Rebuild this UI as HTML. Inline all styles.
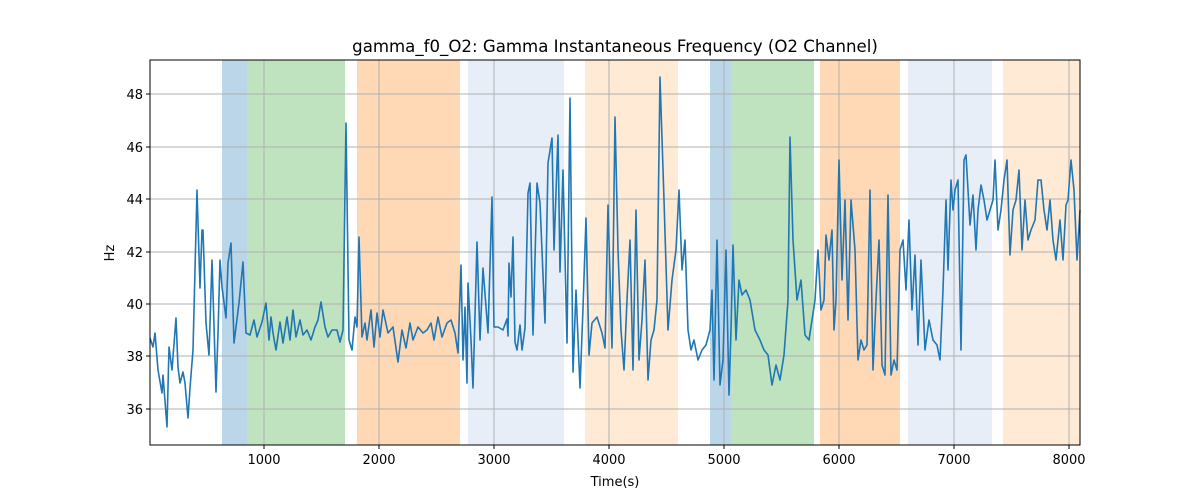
<!DOCTYPE html>
<html><head><meta charset="utf-8"><style>body{margin:0;background:#fff}svg{display:block}text{font-family:"DejaVu Sans","Liberation Sans",sans-serif;font-size:13px;fill:#000}</style></head><body>
<svg width="1200" height="500" xmlns="http://www.w3.org/2000/svg">
<g>
<rect x="222" y="60" width="25" height="385" fill="#1f77b4" fill-opacity="0.3"/>
<rect x="247" y="60" width="98" height="385" fill="#2ca02c" fill-opacity="0.3"/>
<rect x="357" y="60" width="103" height="385" fill="#ff7f0e" fill-opacity="0.3"/>
<rect x="468" y="60" width="96" height="385" fill="#aec7e8" fill-opacity="0.3"/>
<rect x="585" y="60" width="93" height="385" fill="#ffbb78" fill-opacity="0.3"/>
<rect x="710" y="60" width="21" height="385" fill="#1f77b4" fill-opacity="0.3"/>
<rect x="731" y="60" width="83" height="385" fill="#2ca02c" fill-opacity="0.3"/>
<rect x="820" y="60" width="80" height="385" fill="#ff7f0e" fill-opacity="0.3"/>
<rect x="908" y="60" width="84" height="385" fill="#aec7e8" fill-opacity="0.3"/>
<rect x="1003" y="60" width="77" height="385" fill="#ffbb78" fill-opacity="0.3"/>
</g>
<g stroke="#b0b0b0" stroke-width="1">
<line x1="264" y1="60" x2="264" y2="445"/><line x1="379" y1="60" x2="379" y2="445"/><line x1="494" y1="60" x2="494" y2="445"/><line x1="609" y1="60" x2="609" y2="445"/><line x1="724" y1="60" x2="724" y2="445"/><line x1="839" y1="60" x2="839" y2="445"/><line x1="954" y1="60" x2="954" y2="445"/><line x1="1069" y1="60" x2="1069" y2="445"/>
<line x1="150" y1="409" x2="1080" y2="409"/><line x1="150" y1="356" x2="1080" y2="356"/><line x1="150" y1="304" x2="1080" y2="304"/><line x1="150" y1="252" x2="1080" y2="252"/><line x1="150" y1="199" x2="1080" y2="199"/><line x1="150" y1="147" x2="1080" y2="147"/><line x1="150" y1="94" x2="1080" y2="94"/>
</g>
<polyline fill="none" stroke="#1f77b4" stroke-width="1.6" stroke-linejoin="round" points="150,338 153,347 155,333 158,370 162,393 163,375 167,427 169,347 172,370 176,318 178,367 180,383 183,372 185,383 188,418 190,388 193,350 197,190 200,288 202,230 203,230 206,323 209,355 212,260 216,392 218,333 220,260 222,287 226,318 228,263 231,243 234,343 239,303 243,262 246,333 250,335 254,320 257,337 262,322 266,303 269,340 271,317 273,333 276,350 280,322 283,343 287,317 290,340 293,310 296,337 300,320 303,335 307,330 311,340 315,327 318,320 321,302 325,327 328,337 332,330 337,330 340,342 343,330 346,123 349,340 352,350 355,317 357,327 359,237 362,337 365,323 367,340 371,310 374,347 377,313 380,337 383,310 388,333 393,327 398,362 402,330 406,348 410,323 413,340 418,327 423,333 427,330 431,323 434,340 438,317 442,337 447,323 451,320 455,333 458,353 461,265 463,360 465,307 467,383 468,283 471,340 473,388 477,242 480,340 483,268 488,333 492,197 494,327 498,327 503,330 507,319 508,336 509,263 511,297 513,237 515,342 517,350 520,325 522,350 525,328 528,193 530,183 533,335 537,183 540,203 545,323 548,163 552,138 554,250 558,135 560,272 563,170 567,343 570,98 573,372 576,290 580,388 583,308 586,218 589,355 592,323 597,317 602,333 605,348 608,205 612,348 615,117 618,250 621,330 624,370 627,300 630,240 633,370 636,210 639,360 642,320 645,260 648,380 651,340 654,330 657,300 660,77 664,200 668,330 672,280 676,250 679,190 682,270 685,240 688,330 691,350 694,340 698,360 702,350 706,345 710,330 712,290 714,380 717,240 720,385 723,360 726,250 729,395 731,330 733,245 736,340 739,280 742,295 746,290 750,300 755,330 760,340 764,350 768,355 772,385 776,365 780,380 784,355 788,300 790,137 793,240 797,300 801,280 805,335 809,340 812,320 815,300 818,250 821,310 824,300 826,235 829,260 832,230 834,330 836,300 839,160 842,280 845,200 848,320 851,200 855,250 858,360 861,340 864,350 867,345 870,190 873,370 876,300 879,240 882,365 885,375 888,195 891,375 894,360 897,370 900,250 903,240 906,290 909,220 912,310 915,255 918,345 921,260 925,350 929,320 933,340 937,345 940,360 943,290 946,200 948,270 951,180 953,210 955,190 958,180 961,350 964,160 966,155 970,225 973,195 976,250 978,210 981,185 984,200 987,220 990,210 993,200 995,160 998,230 1001,210 1004,180 1007,160 1010,255 1013,210 1016,200 1019,170 1022,250 1025,200 1028,240 1031,230 1035,220 1038,180 1041,180 1044,210 1047,230 1050,200 1053,240 1056,260 1060,220 1063,260 1066,205 1068,200 1071,160 1074,190 1077,260 1080,210"/>
<rect x="150" y="60" width="930" height="385" fill="none" stroke="#000" stroke-width="1"/>
<g stroke="#000">
<line x1="264" y1="445" x2="264" y2="449"/><line x1="379" y1="445" x2="379" y2="449"/><line x1="494" y1="445" x2="494" y2="449"/><line x1="609" y1="445" x2="609" y2="449"/><line x1="724" y1="445" x2="724" y2="449"/><line x1="839" y1="445" x2="839" y2="449"/><line x1="954" y1="445" x2="954" y2="449"/><line x1="1069" y1="445" x2="1069" y2="449"/>
<line x1="146" y1="409" x2="150" y2="409"/><line x1="146" y1="356" x2="150" y2="356"/><line x1="146" y1="304" x2="150" y2="304"/><line x1="146" y1="252" x2="150" y2="252"/><line x1="146" y1="199" x2="150" y2="199"/><line x1="146" y1="147" x2="150" y2="147"/><line x1="146" y1="94" x2="150" y2="94"/>
</g>
<g text-anchor="middle">
<text x="264" y="464">1000</text><text x="379" y="464">2000</text><text x="494" y="464">3000</text><text x="609" y="464">4000</text><text x="724" y="464">5000</text><text x="839" y="464">6000</text><text x="954" y="464">7000</text><text x="1069" y="464">8000</text>
<text x="615" y="486">Time(s)</text>
<text x="615" y="52" style="font-size:16.6px">gamma_f0_O2: Gamma Instantaneous Frequency (O2 Channel)</text>
</g>
<g text-anchor="end">
<text x="143" y="414">36</text><text x="143" y="361">38</text><text x="143" y="309">40</text><text x="143" y="257">42</text><text x="143" y="204">44</text><text x="143" y="152">46</text><text x="143" y="99">48</text>
</g>
<text x="114" y="253" text-anchor="middle" transform="rotate(-90 114 253)">Hz</text>
</svg>
</body></html>
